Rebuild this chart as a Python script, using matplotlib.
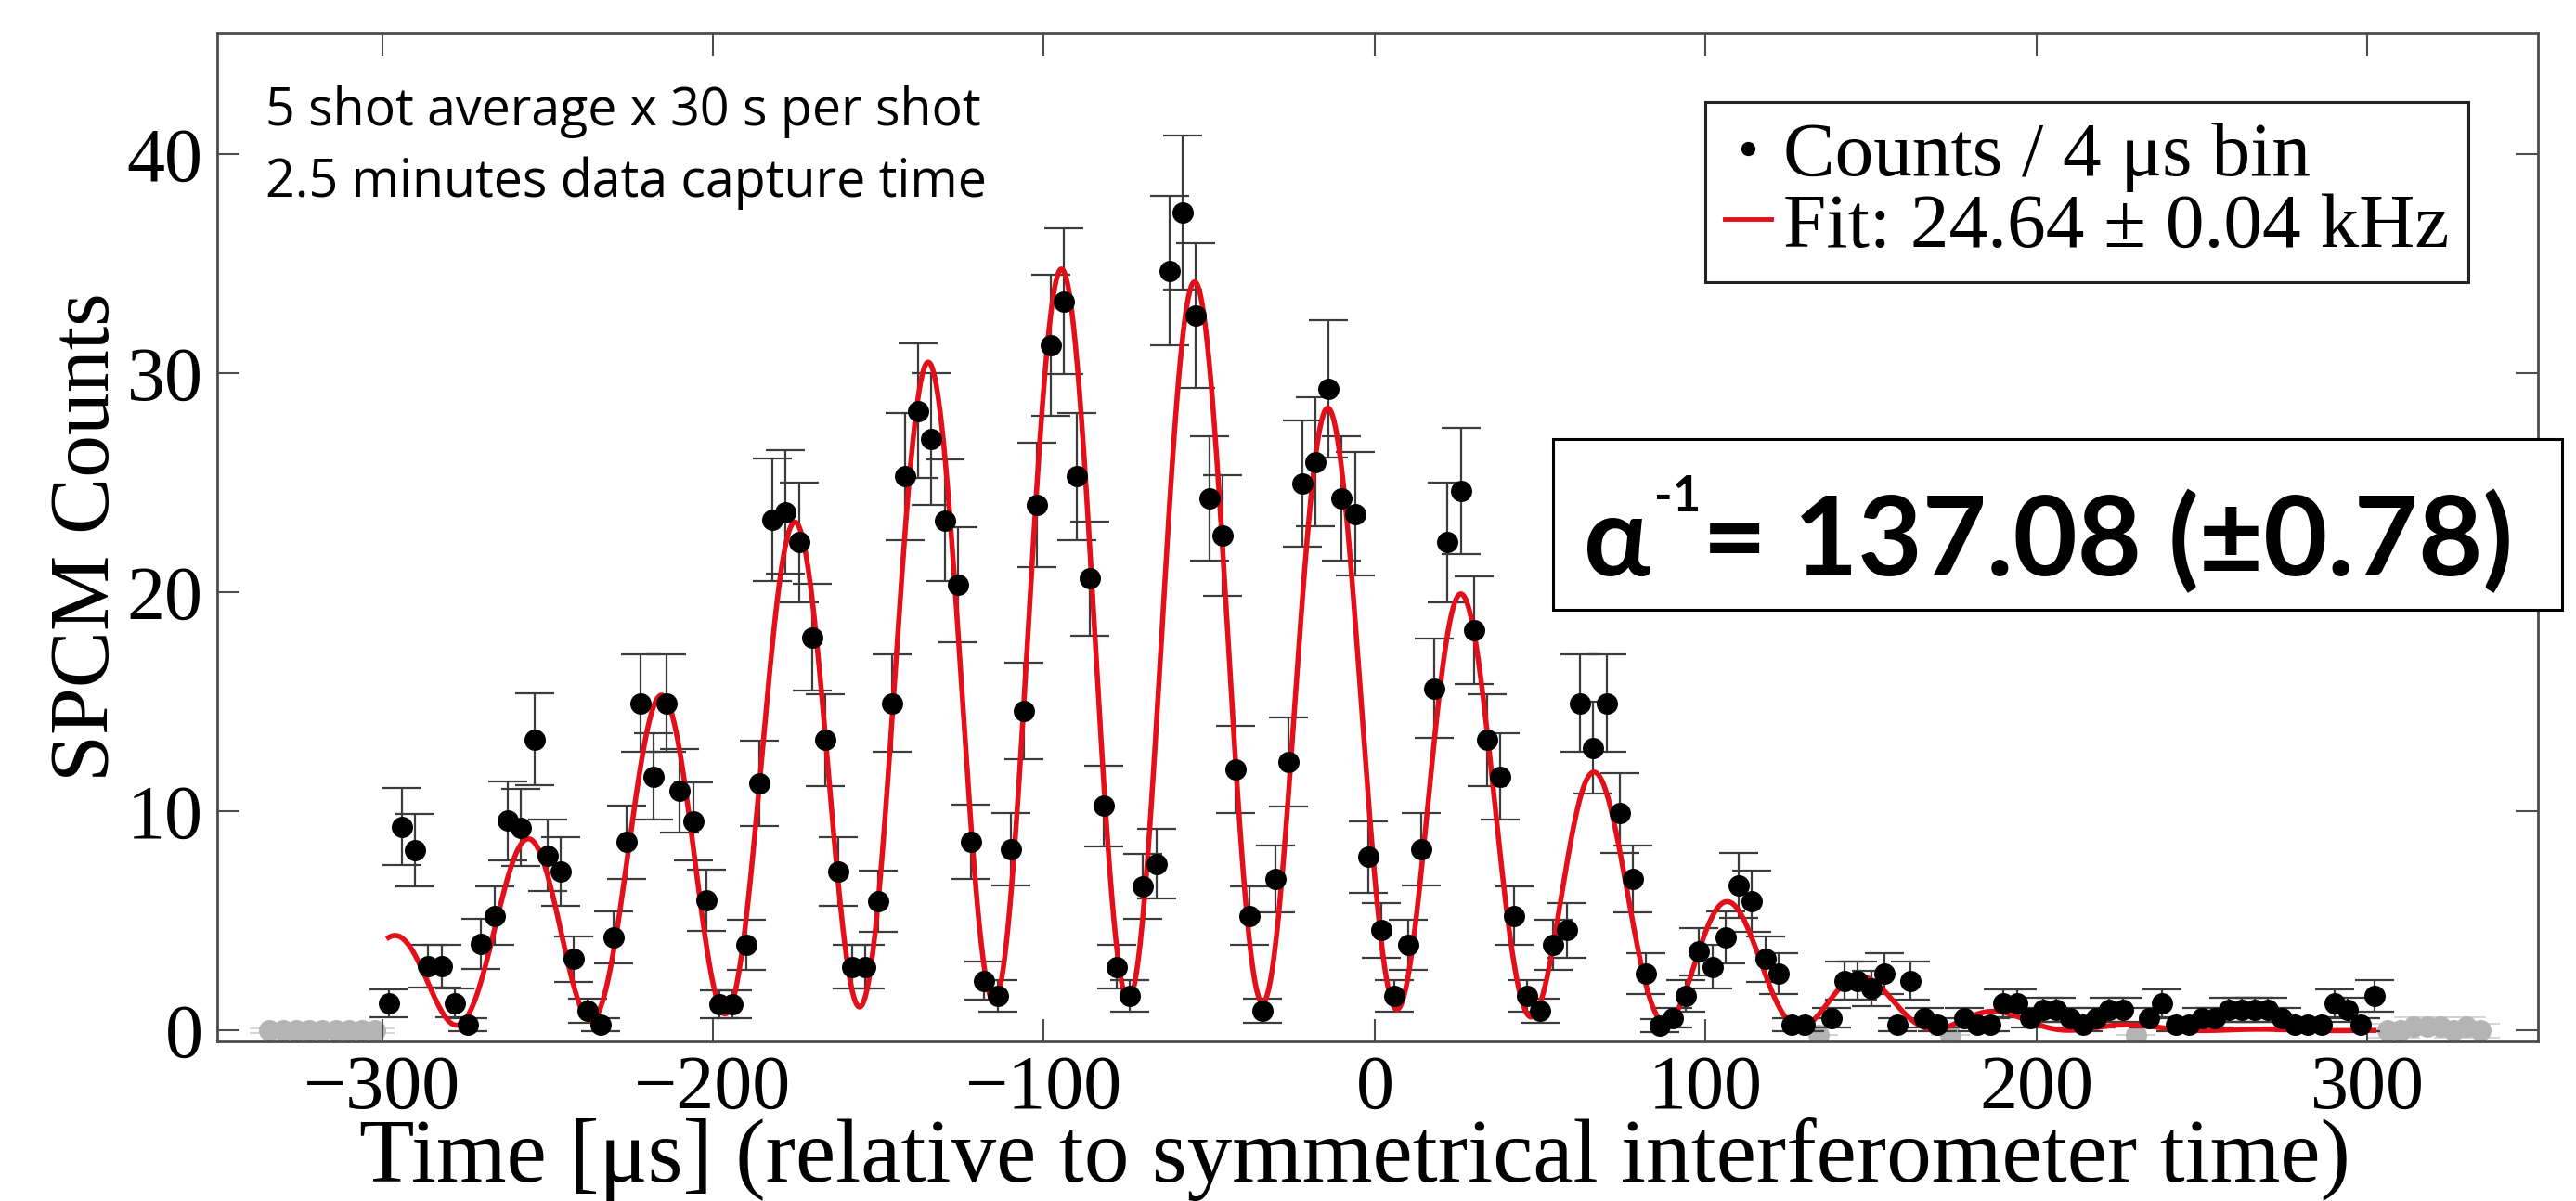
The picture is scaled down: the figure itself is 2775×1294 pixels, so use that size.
import numpy as np
import matplotlib
matplotlib.use("Agg")
import matplotlib.pyplot as plt
from matplotlib.lines import Line2D
from matplotlib.patches import Rectangle

# figure size in pixels (dpi 100)
W, H = 2775, 1294

# 4 us bins, centres from -298 to 302 us
time_us = np.arange(-298, 303, 4)

# SPCM counts per bin (nan = bin drawn grey instead)
counts = [
    1.25, 9.31, 8.24, 2.94, 2.94, 1.26, 0.26, 3.95, 5.25, 9.58,
    9.27, 13.3, 8.0, 7.27, 3.27, 0.91, 0.26, 4.26, 8.6, 14.95,
    11.6, 14.95, 10.94, 9.55, 5.95, 1.22, 1.22, 3.93, 11.28, 23.33,
    23.68, 22.3, 17.96, 13.27, 7.27, 2.92, 2.92, 5.91, 14.95, 25.3,
    28.3, 27.0, 23.3, 20.36, 8.61, 2.28, 1.57, 8.28, 14.6, 24.0,
    31.3, 33.3, 25.3, 20.64, 10.26, 2.92, 1.57, 6.59, 7.62, 34.7,
    37.35, 32.65, 24.3, 22.6, 11.93, 5.25, 0.9, 6.94, 12.27, 24.98,
    25.97, 29.3, 24.3, 23.6, 7.93, 4.58, 1.57, 3.93, 8.28, 15.63,
    22.3, 24.64, 18.28, 13.27, 11.6, 5.25, 1.57, 0.9, 3.93, 4.58,
    14.95, 12.92, 14.95, 9.94, 6.94, 2.59, 0.23, 0.59, 1.57, 3.6,
    2.92, 4.26, 6.62, 5.91, 3.27, 2.59, 0.26, 0.26, np.nan, 0.59,
    2.28, 2.28, 1.93, 2.59, 0.26, 2.28, 0.59, 0.26, np.nan, 0.59,
    0.26, 0.26, 1.25, 1.25, 0.59, 0.94, 0.94, 0.59, 0.26, 0.59,
    0.94, 0.94, np.nan, 0.59, 1.25, 0.26, 0.26, 0.59, 0.59, 0.94,
    0.94, 0.94, 0.94, 0.59, 0.26, 0.26, 0.26, 1.25, 0.94, 0.26,
    1.57,
]

count_err = [
    0.65, 1.76, 1.66, 0.99, 0.99, 0.65, 0.29, 1.15, 1.32, 1.79,
    1.76, 2.11, 1.63, 1.56, 1.04, 0.55, 0.29, 1.19, 1.69, 2.23,
    1.97, 2.23, 1.91, 1.78, 1.41, 0.64, 0.64, 1.14, 1.94, 2.79,
    2.81, 2.73, 2.45, 2.10, 1.56, 0.99, 0.99, 1.40, 2.23, 2.90,
    3.07, 3.00, 2.79, 2.61, 1.69, 0.87, 0.72, 1.66, 2.21, 2.83,
    3.23, 3.33, 2.90, 2.62, 1.85, 0.99, 0.72, 1.48, 1.59, 3.40,
    3.53, 3.30, 2.85, 2.74, 1.99, 1.32, 0.55, 1.52, 2.02, 2.89,
    2.94, 3.13, 2.85, 2.80, 1.63, 1.24, 0.72, 1.14, 1.66, 2.28,
    2.73, 2.87, 2.47, 2.10, 1.97, 1.32, 0.72, 0.55, 1.14, 1.24,
    2.23, 2.08, 2.23, 1.82, 1.52, 0.93, 0.28, 0.44, 0.72, 1.10,
    0.99, 1.19, 1.49, 1.40, 1.04, 0.93, 0.29, 0.29, np.nan, 0.44,
    0.87, 0.87, 0.80, 0.93, 0.29, 0.87, 0.44, 0.29, np.nan, 0.44,
    0.29, 0.29, 0.65, 0.65, 0.44, 0.56, 0.56, 0.44, 0.29, 0.44,
    0.56, 0.56, np.nan, 0.44, 0.65, 0.29, 0.29, 0.44, 0.44, 0.56,
    0.56, 0.56, 0.56, 0.44, 0.29, 0.29, 0.29, 0.65, 0.56, 0.29,
    0.72,
]

# grey (unused) bins
grey_time = [-334, -330, -326, -322, -318, -314, -310, -306, -302,
             134, 174, 230,
             306, 310, 314, 318, 322, 326, 330, 334]
grey_counts = [0, 0, 0, 0, 0, 0, 0, 0, 0,
               -0.2, -0.2, -0.2,
               0, 0, 0.2, 0.2, 0.2, 0, 0.2, 0]
grey_err = [0.1, 0.1, 0.1, 0.1, 0.1, 0.1, 0.1, 0.1, 0.1,
            0, 0, 0,
            0.3, 0.3, 0.4, 0.4, 0.4, 0.3, 0.4, 0.3]

# fit parameters
FIT_FREQ_KHZ = 24.64
FIT_PHASE_US = -94.8
FIT_PEAK = 35.2
FIT_ENV_CENTER = -78.0
FIT_SIGMA_LEFT = 107.0
FIT_SIGMA_RIGHT = 98.0
FIT_VIS = 0.923
FIT_START, FIT_END = -298, 302


def fit_curve(t):
    sigma = np.where(t < FIT_ENV_CENTER, FIT_SIGMA_LEFT, FIT_SIGMA_RIGHT)
    env = FIT_PEAK * np.exp(-(t - FIT_ENV_CENTER) ** 2 / (2 * sigma ** 2))
    fringe = 1 + FIT_VIS * np.cos(2 * np.pi * FIT_FREQ_KHZ * 1e-3 * (t - FIT_PHASE_US))
    return env * fringe / (1 + FIT_VIS)


plt.rcParams['font.family'] = ['Liberation Serif', 'DejaVu Serif']

fig = plt.figure(figsize=(W / 100, H / 100), dpi=100)
ax = fig.add_axes([234 / W, 1 - 1122 / H, 2500 / W, 1086 / H])

RED = '#e3101a'
fit_t = np.linspace(FIT_START, FIT_END, 3000)

ax.errorbar(grey_time, grey_counts, yerr=grey_err, fmt='o', color='#b4b4b4',
            ms=15.5, ecolor='#d0d0d0', elinewidth=1.2, capsize=15, capthick=1.2, zorder=1)
ax.errorbar(time_us, counts, yerr=count_err, fmt='none', ecolor='#3c3c3c',
            elinewidth=1.6, capsize=15, capthick=1.6, zorder=2)
ax.plot(fit_t, fit_curve(fit_t), color=RED, lw=4, zorder=3)
ax.plot(time_us, counts, 'o', color='black', ms=15.5, zorder=4)

ax.set_xlim(-349.8, 351.5)
ax.set_ylim(-0.49, 45.53)
ax.set_xticks([-300, -200, -100, 0, 100, 200, 300])
ax.set_yticks([0, 10, 20, 30, 40])

for sp in ax.spines.values():
    sp.set_color('#4d4d4d')
    sp.set_linewidth(2)
ax.tick_params(direction='in', length=17, width=1.5, color='#4d4d4d',
               top=True, right=True, labelsize=59)
ax.tick_params(axis='x', pad=10)
ax.tick_params(axis='y', pad=11)

ax.set_xlabel("Time [μs] (relative to symmetrical interferometer time)",
              fontsize=70, va='baseline')
ax.xaxis.set_label_coords((1459 - 234) / 2500, (H - 1273 - 172) / 1086)
ax.set_ylabel("SPCM Counts", fontsize=66)
ax.yaxis.set_label_coords((136 - 234) / 2500, 0.5)

handles = [Line2D([], [], ls='none', marker='o', color='black', ms=10),
           Line2D([], [], color=RED, lw=3.5)]
leg = ax.legend(handles, ["Counts / 4 μs bin", "Fit: 24.64 ± 0.04 kHz"],
                loc='upper right', bbox_to_anchor=(2659 / W, 1 - 110 / H),
                bbox_transform=fig.transFigure, borderaxespad=0, fontsize=60,
                fancybox=False, framealpha=1, edgecolor='#222222',
                handlelength=0.6, handletextpad=0.15, labelspacing=0.0,
                borderpad=0.25)
leg.get_frame().set_linewidth(2.2)

# run notes in the upper left
note_font = ['Open Sans', 'DejaVu Sans']
fig.text(286 / W, 1 - 135 / H, "5 shot average x 30 s per shot",
         family=note_font, fontsize=40, va='baseline')
fig.text(286 / W, 1 - 212 / H, "2.5 minutes data capture time",
         family=note_font, fontsize=40, va='baseline')

# fine-structure constant result box
fig.add_artist(Rectangle((1673 / W, 1 - 657 / H), (2760 - 1673) / W, (657 - 473) / H,
                         transform=fig.transFigure, facecolor='white',
                         edgecolor='black', lw=2.2, zorder=5))
bold_font = ['Lato', 'Open Sans', 'DejaVu Sans']
t_alpha = fig.text(1706 / W, 1 - 620 / H, "α", family=bold_font, weight='bold',
                   fontsize=86, va='baseline', zorder=6)
fig.canvas.draw()
x_next = t_alpha.get_window_extent().x1 + 4
t_sup = fig.text(x_next / W, 1 - 551 / H, "-1", family=bold_font, weight='bold',
                 fontsize=38, va='baseline', zorder=6)
fig.canvas.draw()
x_next = t_sup.get_window_extent().x1 + 2
fig.text(x_next / W, 1 - 620 / H, "= 137.08 (±0.78)", family=bold_font,
         weight='bold', fontsize=86, va='baseline', zorder=6)

fig.savefig("out.png", dpi=100)
